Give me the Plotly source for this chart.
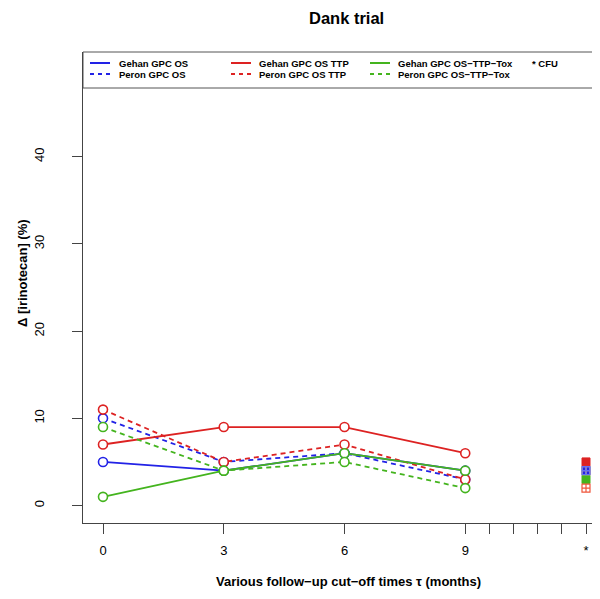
import plotly.graph_objects as go

# follow-up cut-off times (months) and delta values (%)
times = [0, 3, 6, 9]
gehan_os = [5, 4, 6, 4]
peron_os = [10, 5, 6, 3]
gehan_ttp = [7, 9, 9, 6]
peron_ttp = [11, 5, 7, 3]
gehan_tox = [1, 4, 6, 4]
peron_tox = [9, 4, 5, 2]

# complete follow-up (CFU) values, order: OS, OS TTP, OS-TTP-Tox
cfu_x = 12
cfu_gehan = [4, 5, 3]
cfu_peron = [4, 4, 2]

x_ticks = [0, 3, 6, 9, 9.6, 10.2, 10.8, 11.4, 12]
x_labels = ["0", "3", "6", "9", "", "", "", "", "*"]
y_ticks = [0, 10, 20, 30, 40]

names = ["Gehan GPC OS", "Peron GPC OS",
         "Gehan GPC OS TTP", "Peron GPC OS TTP",
         "Gehan GPC OS\u2212TTP\u2212Tox", "Peron GPC OS\u2212TTP\u2212Tox"]

BLUE = "#2222e6"
RED = "#dd2222"
GREEN = "#44b41e"
colors = [BLUE, RED, GREEN]
FONT = "Liberation Sans, Arial, sans-serif"

# page body has an 8px margin: keep the page from scrolling vertically
OFF = 8
FIG_W, FIG_H = 600, 599 - 2 * OFF
L, R, T, B = 83, 608, 52, 523   # plot area in screen pixels
W, H = R - L, B - T


def px(x):
    return (x - L) / W


def py(y):
    return (B - y) / H


fig = go.Figure()

series = [(gehan_os, peron_os), (gehan_ttp, peron_ttp), (gehan_tox, peron_tox)]
for i, (g, p) in enumerate(series):
    for j, (vals, dash) in enumerate([(g, "solid"), (p, "5px,4px")]):
        fig.add_trace(go.Scatter(
            x=times, y=vals, mode="lines+markers", name=names[2 * i + j],
            line=dict(color=colors[i], width=1.8, dash=dash),
            marker=dict(symbol="circle", size=9, color="white",
                        line=dict(color=colors[i], width=1.6)),
            showlegend=False, cliponaxis=False))

# CFU squares
for i in range(3):
    fig.add_trace(go.Scatter(
        x=[cfu_x], y=[cfu_gehan[i]], mode="markers",
        marker=dict(symbol="square", size=8, color=colors[i],
                    line=dict(color=colors[i], width=1)),
        showlegend=False, cliponaxis=False))
for i in range(3):
    fig.add_trace(go.Scatter(
        x=[cfu_x], y=[cfu_peron[i]], mode="markers",
        marker=dict(symbol="square-cross-open", size=8,
                    line=dict(color=colors[i], width=1.2)),
        showlegend=False, cliponaxis=False))

# x range so that 0 -> px 103 and 12 -> px 586 (right edge of the view is ~592)
ppu = (586 - 103) / 12
x0 = -(103 - L) / ppu
x1 = x0 + W / ppu

fig.update_layout(
    width=FIG_W, height=FIG_H,
    margin=dict(l=L - OFF, r=FIG_W - (R - OFF), t=T - OFF,
                b=FIG_H - (B - OFF), pad=0),
    plot_bgcolor="white", paper_bgcolor="white",
    font=dict(family=FONT, color="black"),
    xaxis=dict(range=[x0, x1], showgrid=False, zeroline=False,
               showline=True, linecolor="#444", linewidth=1,
               ticks="outside", ticklen=10, tickcolor="#444",
               tickvals=x_ticks, ticktext=x_labels,
               tickfont=dict(size=13, family=FONT),
               ticklabelstandoff=5, automargin=False),
    yaxis=dict(range=[-2, 52], showgrid=False, zeroline=False,
               showline=True, linecolor="#444", linewidth=1,
               ticks="outside", ticklen=10, tickcolor="#444",
               tickvals=y_ticks, tickangle=-90,
               tickfont=dict(size=13, family=FONT),
               ticklabelstandoff=23, automargin=False),
)

ann = []


def text(s, x, y, size, xanchor="center", angle=0):
    ann.append(dict(text=s, x=px(x), y=py(y), xref="paper", yref="paper",
                    xanchor=xanchor, yanchor="middle", showarrow=False,
                    textangle=angle, font=dict(size=size, family=FONT)))


text("<b>Dank trial</b>", 346, 18, 16.5)
text("<b>Various follow\u2212up cut\u2212off times \u03c4 (months)</b>", 348, 581, 13)
text("<b>\u0394 [irinotecan] (%)</b>", 22, 273, 13, angle=-90)

shapes = []
# legend box
shapes.append(dict(type="rect", xref="paper", yref="paper",
                   x0=0, x1=1.1, y0=py(88), y1=1,
                   line=dict(color="#555", width=1), fillcolor="white",
                   layer="below"))
col_line = [90, 231, 370]
col_text = [117, 257, 396]
row_y = [63, 74]
for i in range(3):
    for j in range(2):
        shapes.append(dict(type="line", xref="paper", yref="paper",
                           x0=px(col_line[i]), x1=px(col_line[i] + 20),
                           y0=py(row_y[j]), y1=py(row_y[j]),
                           line=dict(color=colors[i], width=2,
                                     dash="solid" if j == 0 else "4px,4px")))
        text("<b>%s</b>" % names[2 * i + j], col_text[i], row_y[j], 9.5,
             xanchor="left")
text("<b>* CFU</b>", 530, row_y[0], 9.5, xanchor="left")

fig.update_layout(annotations=ann, shapes=shapes)
fig.write_html("out.html")
